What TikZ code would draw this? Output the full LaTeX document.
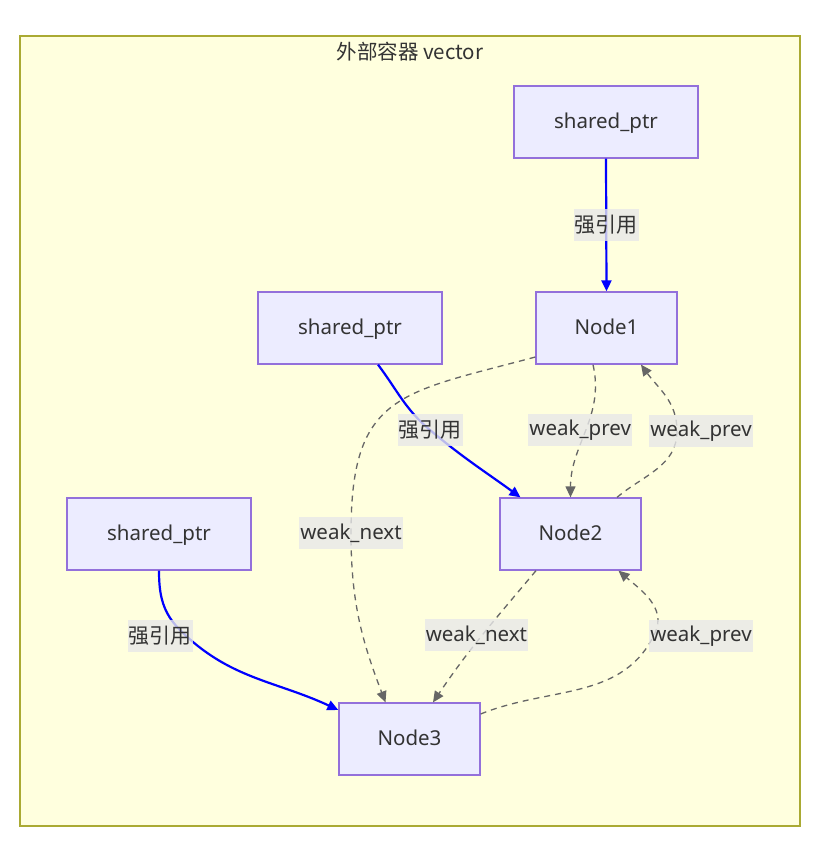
\documentclass[tikz,border=0pt]{standalone}
\usepackage{fontspec}
\setmainfont{Noto Sans}
\newfontfamily\cjk{Noto Sans CJK SC}
\usepackage{tikz}
\usetikzlibrary{positioning,arrows.meta}
\definecolor{contfill}{HTML}{FFFFDE}
\definecolor{contline}{HTML}{AAAA33}
\definecolor{boxfill}{HTML}{ECECFF}
\definecolor{boxline}{HTML}{9370DB}
\definecolor{txt}{HTML}{333333}
\definecolor{weakline}{HTML}{666666}
\definecolor{lblfill}{HTML}{E8E8E8}

\begin{document}
\begin{tikzpicture}[x=1pt,y=1pt,
        font=\fontsize{20.5}{24}\selectfont, text=txt,
        box/.style={draw=boxline,fill=boxfill,line width=1.3pt,minimum height=72pt,text depth=2pt},
        ptrbox/.style={box,minimum width=184pt},
        nodebox/.style={box,minimum width=141pt},
        strong/.style={draw=blue,line width=2.2pt,-{Triangle[length=11pt,width=10pt]}},
        weak/.style={draw=weakline,line width=1.3pt,dash pattern=on 6pt off 5pt,-{Triangle[length=11pt,width=10pt]}},
        lbl/.style={fill=lblfill,fill opacity=.8,text opacity=1,inner xsep=1pt,inner ysep=0pt,minimum height=32pt}]
    \useasboundingbox (0,0) rectangle (826,-843);
    % container
    \node[draw=contline,fill=contfill,line width=1.2pt,minimum width=780pt,minimum height=790pt] (cont) at (410,-431) {};
    \node (title) at (410,-52) {\cjk 外部容器 vector};
    % pointers and list nodes
    \node[ptrbox] (sp1) at (606,-122) {shared\_ptr};
    \node[ptrbox] (sp2) at (350,-328) {shared\_ptr};
    \node[ptrbox] (sp3) at (159,-534) {shared\_ptr};
    \node[nodebox] (n1) at (606.5,-328) {Node1};
    \node[nodebox] (n2) at (570.5,-534) {Node2};
    \node[nodebox] (n3) at (409.5,-739) {Node3};
    % strong references
    \draw[strong] (sp1.south) -- node[lbl] (l1) {\cjk\fontsize{21}{24}\selectfont 强引用} (n1.north);
    \draw[strong] ([xshift=28pt]sp2.south) to[out=-53,in=140] (430,-430) node[lbl] (l2) {\cjk\fontsize{21}{24}\selectfont 强引用}
        to[out=-40,in=144] ([xshift=-50pt]n2.north);
    \draw[strong] (sp3.south) to[out=-90,in=135] (180,-630) node[lbl,xshift=-20pt,yshift=-6pt] (l3) {\cjk\fontsize{21}{24}\selectfont 强引用}
        to[out=-45,in=155] ([yshift=29pt]n3.west);
    % weak references
    \draw[weak] ([yshift=-29pt]n1.west) to[out=195,in=90,looseness=1.4] (351,-533) node[lbl] (l4) {weak\_next}
        to[out=-90,in=111] ([xshift=-24pt]n3.north);
    \draw[weak] ([xshift=-13.5pt]n1.south) to[out=-77,in=90] node[lbl,xshift=-6pt] (l5) {weak\_prev} (n2.north);
    \draw[weak] ([xshift=46.5pt]n2.north) to[out=40,in=-90] (677,-431) node[lbl,xshift=24pt] (l6) {weak\_prev}
        to[out=90,in=-54] ([xshift=34.5pt]n1.south);
    \draw[weak] ([xshift=-34.5pt]n2.south) to[out=-130,in=56] node[lbl,xshift=-6pt] (l7) {weak\_next} ([xshift=23.5pt]n3.north);
    \draw[weak] ([yshift=25pt]n3.east) to[out=22,in=-115] (655,-633) node[lbl,xshift=46pt,yshift=-3pt] (l8) {weak\_prev}
        to[out=65,in=-41] ([xshift=48pt]n2.south);
\end{tikzpicture}
\end{document}
